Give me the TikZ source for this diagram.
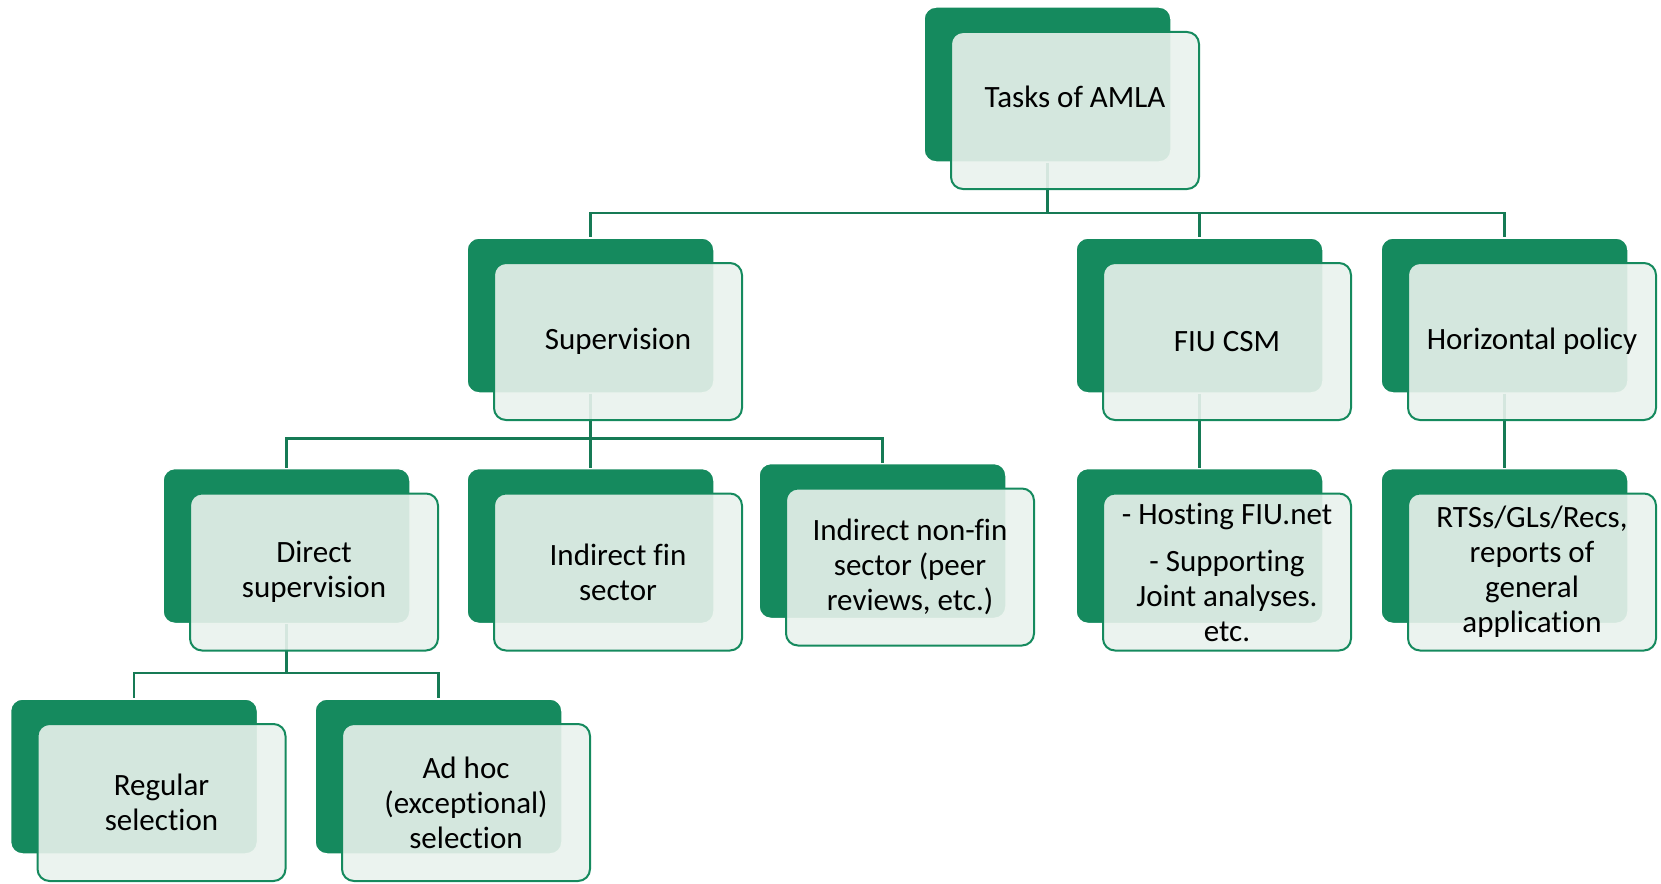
\documentclass[tikz,border=0pt]{standalone}
\usepackage{fontspec}
\setmainfont{Carlito}[Ligatures={NoCommon}]
\definecolor{amlagreen}{HTML}{158A5E}
\definecolor{amlalight}{HTML}{E9F2ED}
\definecolor{amlaline}{HTML}{167A55}
\begin{document}
\begin{tikzpicture}[x=1pt,y=-1pt,
    back/.style={rectangle,rounded corners=12pt,fill=amlagreen,draw=white,line width=1.5pt,
      minimum width=247pt,minimum height=155pt,inner sep=0pt},
    front/.style={rectangle,rounded corners=12pt,fill=amlalight,fill opacity=.9,text opacity=1,
      draw=amlagreen,line width=2pt,minimum width=248pt,minimum height=157pt,inner sep=0pt,
      align=center,font=\fontsize{31}{35}\selectfont},
    link/.style={draw=amlaline,line width=2.5pt}]

        \useasboundingbox (0,0) rectangle (1661,883);

        \begin{scope}[every node/.style={back}]
          \node (amla)  at (1047.5,84.5) {};
          \node (sup)   at (590.5,315.5) {};
          \node (fiu)   at (1199.5,315.5) {};
          \node (hor)   at (1504.5,315.5) {};
          \node (dir)   at (286.5,546)   {};
          \node (ifin)  at (590.5,546)   {};
          \node (inon)  at (882.5,541)   {};
          \node (net)   at (1199.5,546)  {};
          \node (rts)   at (1504.5,546)  {};
          \node (reg)   at (134,776.5)   {};
          \node (adhoc) at (438.5,776.5) {};
        \end{scope}

        \coordinate (bus1) at (0,213);
        \coordinate (bus2) at (0,438.5);
        \coordinate (bus3) at (0,673);

        \begin{scope}[every path/.style={link}]
          \path (amla.south) |- (sup.north |- bus1) -- (sup.north);
          \path (fiu.north |- bus1) -- (fiu.north);
          \path (sup.north |- bus1) -| (hor.north);
          \path (sup.south) |- (dir.north |- bus2) -- (dir.north);
          \path (ifin.north |- bus2) -- (ifin.north);
          \path (dir.north |- bus2) -| (inon.north);
          \path (fiu.south) -- (net.north);
          \path (hor.south) -- (rts.north);
          \path (dir.south) |- (reg.north |- bus3) -- (reg.north);
          \path (reg.north |- bus3) -| (adhoc.north);
        \end{scope}

        \begin{scope}[every node/.style={front}]
          \node (amla-t)  at ([shift={(27.5,26)}]amla.center)  {\raisebox{28pt}{Tasks of AMLA}};
          \node (sup-t)   at ([shift={(27.5,26)}]sup.center)   {Supervision};
          \node (fiu-t)   at ([shift={(27.5,26)}]fiu.center)   {FIU CSM};
          \node (hor-t)   at ([shift={(27.5,26)}]hor.center)   {Horizontal policy};
          \node (dir-t)   at ([shift={(27.5,26)}]dir.center)   {Direct\\supervision};
          \node (ifin-t)  at ([shift={(27.5,26)}]ifin.center)  {Indirect fin\\sector};
          \node (inon-t)  at ([shift={(27.5,26)}]inon.center)  {Indirect non-fin\\sector (peer\\reviews, etc.)};
          \node (net-t)   at ([shift={(27.5,26)}]net.center)   {- Hosting FIU.net\\[12pt] - Supporting\\Joint analyses.\\etc.};
          \node (rts-t)   at ([shift={(27.5,26)}]rts.center)   {RTSs/GLs/Recs,\\reports of\\general\\application};
          \node (reg-t)   at ([shift={(27.5,26)}]reg.center)   {Regular\\selection};
          \node (adhoc-t) at ([shift={(27.5,26)}]adhoc.center) {Ad hoc\\(exceptional)\\selection};
        \end{scope}

      \end{tikzpicture}
\end{document}
